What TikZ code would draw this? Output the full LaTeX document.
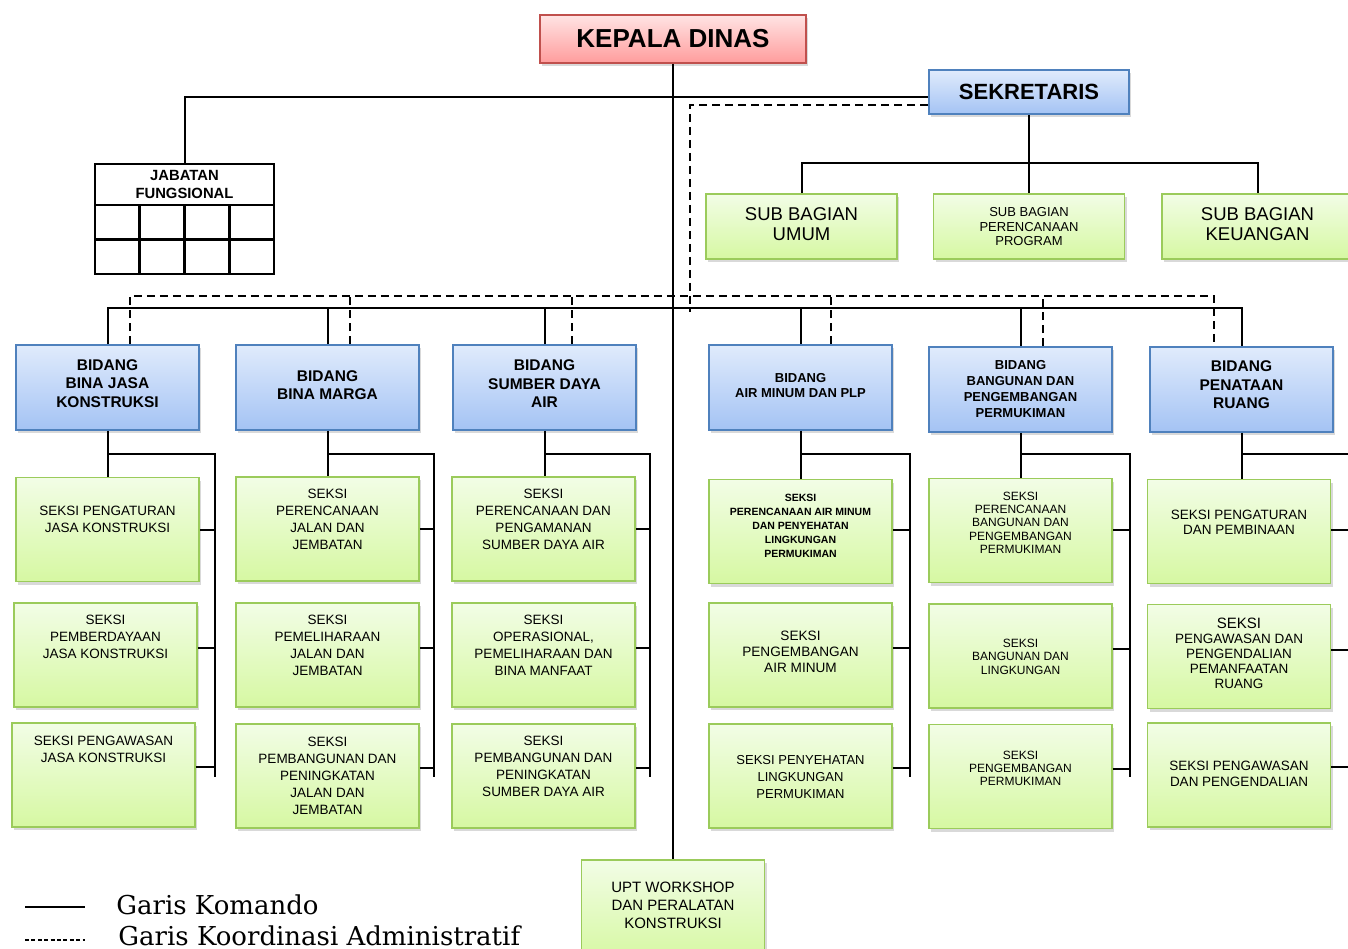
\documentclass[tikz,border=0pt]{standalone}
\usepackage{fontspec}
\setmainfont{Liberation Sans}
\newfontfamily\legendfont{DejaVu Serif}
\usetikzlibrary{shadows}

\definecolor{redtop}{HTML}{FFE4E4}
\definecolor{redbot}{HTML}{FF9C9C}
\definecolor{redline}{HTML}{C0504D}
\definecolor{bluetop}{HTML}{E0EBFC}
\definecolor{bluebot}{HTML}{A4C3F4}
\definecolor{blueline}{HTML}{4F81BD}
\definecolor{greentop}{HTML}{F2FDE6}
\definecolor{greenbot}{HTML}{D6F8A2}
\definecolor{greenline}{HTML}{9BCB5B}

% text block lifted inside its box
\newcommand\boxlift[2]{\raisebox{\dimexpr#1-2.4pt\relax}[0pt][0pt]{\begin{tabular}{@{}c@{}}#2\end{tabular}}}

\tikzset{
  komando/.style={line width=1pt},
  koordinasi/.style={line width=1pt, dash pattern=on 4pt off 2.5pt},
  boxbase/.style={draw, line width=0.9pt, inner sep=0pt,
    drop shadow={shadow xshift=1.2pt, shadow yshift=-1.5pt, opacity=0.3}},
  kepalabox/.style={boxbase, draw=redline, top color=redtop, bottom color=redbot,
    minimum width=133pt, minimum height=24pt, font=\bfseries\fontsize{13}{15}\selectfont},
  sekbox/.style={boxbase, draw=blueline, top color=bluetop, bottom color=bluebot,
    minimum width=100pt, minimum height=22pt, font=\bfseries\fontsize{11}{13}\selectfont},
  bidangbox/.style={boxbase, draw=blueline, top color=bluetop, bottom color=bluebot,
    minimum width=91.5pt, minimum height=42.5pt, font=\bfseries\fontsize{7.75}{9.25}\selectfont},
  subbox/.style={boxbase, draw=greenline, top color=greentop, bottom color=greenbot,
    minimum width=95.5pt, minimum height=32.5pt, font=\fontsize{9.25}{10}\selectfont},
  seksibox/.style={boxbase, draw=greenline, top color=greentop, bottom color=greenbot,
    minimum width=91.5pt, minimum height=52pt, font=\fontsize{6.75}{8.5}\selectfont},
  tbl/.style={line width=1.4pt},
  legend/.style={font=\legendfont\fontsize{13}{15}\selectfont, inner sep=0pt}
}

\begin{document}
\begin{tikzpicture}[x=0.5pt, y=-0.5pt]
\useasboundingbox (0,0) rectangle (1348,948);

% pimpinan
\node[kepalabox] (kepala) at (673,39) {KEPALA DINAS};
\node[sekbox] (sekretaris) at (1029,92) {SEKRETARIS};

\node[subbox] (umum) at (801.5,226.5) {\boxlift{0pt}{SUB BAGIAN\\UMUM}};
\node[subbox, font=\fontsize{6.5}{7.25}\selectfont] (program) at (1029,226.5) {\boxlift{0pt}{SUB BAGIAN\\PERENCANAAN\\PROGRAM}};
\node[subbox] (keuangan) at (1257.5,226.5) {\boxlift{0pt}{SUB BAGIAN\\KEUANGAN}};

% jabatan fungsional
\node[draw, tbl, minimum width=89.5pt, minimum height=20.5pt, inner sep=0pt,
  font=\bfseries\fontsize{7.4}{9}\selectfont] (jabatan) at (184.5,184.5) {\boxlift{0pt}{JABATAN\\FUNGSIONAL}};
\draw[tbl] (95,205) rectangle (274,274);
\draw[tbl] (95,239.5) -- (274,239.5);
\draw[tbl] (139.75,205) -- (139.75,274);
\draw[tbl] (184.5,205) -- (184.5,274);
\draw[tbl] (229.25,205) -- (229.25,274);

% bidang
\node[bidangbox] (b1) at (107.5,387.5) {\boxlift{1.75pt}{BIDANG\\BINA JASA\\KONSTRUKSI}};
\node[bidangbox] (b2) at (327.5,387.5) {\boxlift{0.75pt}{BIDANG\\BINA MARGA}};
\node[bidangbox] (b3) at (544.5,387.5) {\boxlift{1.5pt}{BIDANG\\SUMBER DAYA\\AIR}};
\node[bidangbox, font=\bfseries\fontsize{6.5}{7.5}\selectfont] (b4) at (800.5,387.5) {\boxlift{1pt}{BIDANG\\AIR MINUM DAN PLP}};
\node[bidangbox, font=\bfseries\fontsize{6.5}{8}\selectfont] (b5) at (1020.5,389.5) {\boxlift{0.75pt}{BIDANG\\BANGUNAN DAN\\PENGEMBANGAN\\PERMUKIMAN}};
\node[bidangbox] (b6) at (1241.5,389.5) {\boxlift{2pt}{BIDANG\\PENATAAN\\RUANG}};

% seksi
\node[seksibox] (s11) at (107.5,529.5) {\boxlift{5pt}{SEKSI PENGATURAN\\JASA KONSTRUKSI}};
\node[seksibox] (s12) at (105.5,655) {\boxlift{9pt}{SEKSI\\PEMBERDAYAAN\\JASA KONSTRUKSI}};
\node[seksibox] (s13) at (103.5,775) {\boxlift{12.75pt}{SEKSI PENGAWASAN\\JASA KONSTRUKSI}};

\node[seksibox] (s21) at (327.5,529) {\boxlift{4.75pt}{SEKSI\\PERENCANAAN\\JALAN DAN\\JEMBATAN}};
\node[seksibox] (s22) at (327.5,655) {\boxlift{4.75pt}{SEKSI\\PEMELIHARAAN\\JALAN DAN\\JEMBATAN}};
\node[seksibox] (s23) at (327.5,776) {\boxlift{0pt}{SEKSI\\PEMBANGUNAN DAN\\PENINGKATAN\\JALAN DAN\\JEMBATAN}};

\node[seksibox] (s31) at (543.5,529) {\boxlift{4.75pt}{SEKSI\\PERENCANAAN DAN\\PENGAMANAN\\SUMBER DAYA AIR}};
\node[seksibox] (s32) at (543.5,655) {\boxlift{4.75pt}{SEKSI\\OPERASIONAL,\\PEMELIHARAAN DAN\\BINA MANFAAT}};
\node[seksibox] (s33) at (543.5,776) {\boxlift{4.75pt}{SEKSI\\PEMBANGUNAN DAN\\PENINGKATAN\\SUMBER DAYA AIR}};

\node[seksibox, font=\bfseries\fontsize{5.25}{7}\selectfont] (s41) at (800.5,531.5) {\boxlift{3.5pt}{SEKSI\\PERENCANAAN AIR MINUM\\DAN PENYEHATAN\\LINGKUNGAN\\PERMUKIMAN}};
\node[seksibox, font=\fontsize{6.8}{8}\selectfont] (s42) at (800.5,655) {\boxlift{1.75pt}{SEKSI\\PENGEMBANGAN\\AIR MINUM}};
\node[seksibox, font=\fontsize{6.5}{8.5}\selectfont] (s43) at (800.5,776) {\boxlift{0pt}{SEKSI PENYEHATAN\\LINGKUNGAN\\PERMUKIMAN}};

\node[seksibox, font=\fontsize{6}{6.6}\selectfont] (s51) at (1020.5,530.5) {\boxlift{4pt}{SEKSI\\PERENCANAAN\\BANGUNAN DAN\\PENGEMBANGAN\\PERMUKIMAN}};
\node[seksibox, font=\fontsize{6}{6.75}\selectfont] (s52) at (1020.5,656) {\boxlift{0pt}{SEKSI\\BANGUNAN DAN\\LINGKUNGAN}};
\node[seksibox, font=\fontsize{6}{6.5}\selectfont] (s53) at (1020.5,776.5) {\boxlift{4.25pt}{SEKSI\\PENGEMBANGAN\\PERMUKIMAN}};

\node[seksibox, font=\fontsize{6.75}{7.5}\selectfont] (s61) at (1239,531.5) {\boxlift{4.5pt}{SEKSI PENGATURAN\\DAN PEMBINAAN}};
\node[seksibox, font=\fontsize{6.75}{7.5}\selectfont] (s62) at (1239,656.5) {\boxlift{1.25pt}{{\fontsize{7.5}{8}\selectfont SEKSI}\\PENGAWASAN DAN\\PENGENDALIAN\\PEMANFAATAN\\RUANG}};
\node[seksibox, font=\fontsize{6.75}{8}\selectfont] (s63) at (1239,775) {\boxlift{0.75pt}{SEKSI PENGAWASAN\\DAN PENGENDALIAN}};

\node[seksibox, minimum height=50pt, font=\fontsize{7.5}{9}\selectfont] (upt) at (673,910) {\boxlift{2pt}{UPT WORKSHOP\\DAN PERALATAN\\KONSTRUKSI}};

% garis komando
\coordinate (bus) at (674,308);
\coordinate (sb) at (1029,163);
\draw[komando] (kepala.south) -- (upt.north);
\draw[komando] (jabatan.north) |- ([yshift=-2.5pt]sekretaris.west);
\draw[komando] (sekretaris.south) -- (program.north);
\draw[komando] (umum.north) |- (sb) -| (keuangan.north);
\draw[komando] (b1.north) |- (bus) -| (b6.north);
\draw[komando] (b2.north) -- (b2.north |- bus);
\draw[komando] (b3.north) -- (b3.north |- bus);
\draw[komando] (b4.north) -- (b4.north |- bus);
\draw[komando] (b5.north) -- (b5.north |- bus);

% garis koordinasi
\coordinate (dv) at (690,312);
\coordinate (d1) at (130,296);
\coordinate (d2) at (350,296);
\coordinate (d3) at (572,296);
\coordinate (d4) at (831,296);
\coordinate (d5) at (1043,296);
\coordinate (d6) at (1214,296);
\draw[koordinasi] ([yshift=-6.5pt]sekretaris.west) -| (dv);
\draw[koordinasi] (b1.north -| d1) -- (d1) -- (d6) -- (b6.north -| d6);
\draw[koordinasi] (b2.north -| d2) -- (d2);
\draw[koordinasi] (b3.north -| d3) -- (d3);
\draw[koordinasi] (b4.north -| d4) -- (d4);
\draw[koordinasi] (b5.north -| d5) -- (d5);

% bidang ke seksi
\coordinate (r1) at (215,454);
\coordinate (r2) at (434,454);
\coordinate (r3) at (650,454);
\coordinate (r4) at (910,454);
\coordinate (r5) at (1130,454);
\coordinate (r6) at (1352,454);

\draw[komando] (b1.south) -- (b1.south |- s11.north);
\draw[komando] (b1.south |- r1) -- (r1) -- ++(0,323);
\draw[komando] (s11.east) -- (s11.east -| r1);
\draw[komando] ([yshift=3.5pt]s12.east) -- ([yshift=3.5pt]s12.east -| r1);
\draw[komando] ([yshift=4pt]s13.east) -- ([yshift=4pt]s13.east -| r1);

\draw[komando] (b2.south) -- (b2.south |- s21.north);
\draw[komando] (b2.south |- r2) -- (r2) -- ++(0,323);
\draw[komando] (s21.east) -- (s21.east -| r2);
\draw[komando] ([yshift=3.5pt]s22.east) -- ([yshift=3.5pt]s22.east -| r2);
\draw[komando] ([yshift=4pt]s23.east) -- ([yshift=4pt]s23.east -| r2);

\draw[komando] (b3.south) -- (b3.south |- s31.north);
\draw[komando] (b3.south |- r3) -- (r3) -- ++(0,323);
\draw[komando] (s31.east) -- (s31.east -| r3);
\draw[komando] ([yshift=3.5pt]s32.east) -- ([yshift=3.5pt]s32.east -| r3);
\draw[komando] ([yshift=4pt]s33.east) -- ([yshift=4pt]s33.east -| r3);

\draw[komando] (b4.south) -- (b4.south |- s41.north);
\draw[komando] (b4.south |- r4) -- (r4) -- ++(0,323);
\draw[komando] ([yshift=1pt]s41.east) -- ([yshift=1pt]s41.east -| r4);
\draw[komando] ([yshift=3.5pt]s42.east) -- ([yshift=3.5pt]s42.east -| r4);
\draw[komando] ([yshift=4pt]s43.east) -- ([yshift=4pt]s43.east -| r4);

\draw[komando] (b5.south) -- (b5.south |- s51.north);
\draw[komando] (b5.south |- r5) -- (r5) -- ++(0,323);
\draw[komando] ([yshift=0.5pt]s51.east) -- ([yshift=0.5pt]s51.east -| r5);
\draw[komando] ([yshift=3.5pt]s52.east) -- ([yshift=3.5pt]s52.east -| r5);
\draw[komando] ([yshift=4pt]s53.east) -- ([yshift=4pt]s53.east -| r5);

\draw[komando] (b6.south) -- (b6.south |- s61.north);
\draw[komando] (b6.south |- r6) -- (r6) -- ++(0,323);
\draw[komando] ([yshift=1pt]s61.east) -- ([yshift=1pt]s61.east -| r6);
\draw[komando] ([yshift=3.5pt]s62.east) -- ([yshift=3.5pt]s62.east -| r6);
\draw[komando] ([yshift=4pt]s63.east) -- ([yshift=4pt]s63.east -| r6);

% keterangan
\coordinate (ka) at (25,907);
\coordinate (kb) at (85,907);
\coordinate (kc) at (25,940);
\coordinate (kd) at (85,940);
\draw[komando] (ka) -- (kb);
\draw[line width=0.8pt, dash pattern=on 2pt off 1.2pt] (kc) -- (kd);
\node[legend, anchor=west] (lkomando) at (116,905) {Garis Komando};
\node[legend, anchor=west] (lkoordinasi) at (118,936) {Garis Koordinasi Administratif};

\end{tikzpicture}
\end{document}
